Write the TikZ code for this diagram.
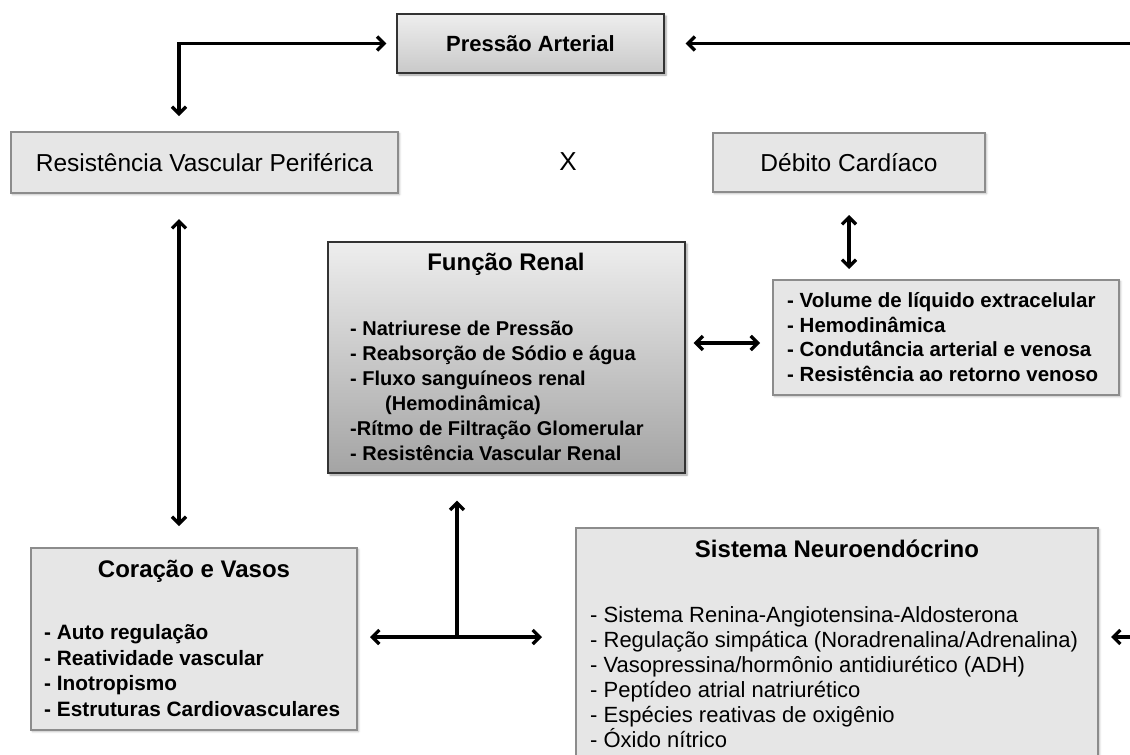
\documentclass[tikz,border=0pt]{standalone}
\usepackage{fontspec}
\setmainfont{Liberation Sans}
\usepackage{xcolor}
\definecolor{mgray}{HTML}{E6E6E6}
\definecolor{medge}{HTML}{8C8C8C}
\definecolor{mtop}{HTML}{EEEEEE}
\definecolor{mbot}{HTML}{B2B2B2}
\usepackage{tikz}
\usetikzlibrary{calc,shadows.blur}
\usetikzlibrary{arrows.meta}

\begin{document}
\begin{tikzpicture}[x=1pt, y=-1pt,
        gbox/.style={draw=medge, line width=2pt, fill=mgray, inner sep=0pt,
            blur shadow={shadow xshift=1.5pt, shadow yshift=-1.5pt, shadow blur radius=2pt, shadow opacity=30}},
        sbox/.style={draw=black!80, line width=1.2pt, top color=mtop, bottom color=mbot, inner sep=0pt,
            blur shadow={shadow xshift=2pt, shadow yshift=-2pt, shadow blur radius=2pt, shadow opacity=40}},
        ttl/.style={font=\fontsize{24}{28}\selectfont\bfseries},
        lst/.style={align=left, anchor=west, inner sep=0pt, font=\fontsize{20}{25}\selectfont\bfseries},
        arr/.style={-{Straight Barb[length=7pt,width=14pt]}, line width=3.3pt},
        dbl/.style={{Straight Barb[length=7pt,width=14pt]}-{Straight Barb[length=7pt,width=14pt]}, line width=3.3pt}]
    \useasboundingbox (0,0) rectangle (1130,755);
    \clip (0,0) rectangle (1130,755);

    \node[sbox, bottom color=mbot!70!white, minimum width=267pt, minimum height=59pt, font=\fontsize{22}{24}\selectfont\bfseries] (pa) at (530.5,43.5) {Pressão Arterial};
    \node[gbox, minimum width=387pt, minimum height=61pt, font=\fontsize{24.5}{28}\selectfont] (rvp) at (204.5,162.5) {Resistência Vascular Periférica};
    \node[font=\fontsize{26}{28}\selectfont] (vx) at (568,162) {X};
    \node[gbox, minimum width=272pt, minimum height=59pt, font=\fontsize{24.5}{28}\selectfont] (dc) at (849,162.5) {Débito Cardíaco};

    \node[sbox, bottom color=mbot!92!black, minimum width=357pt, minimum height=231pt] (fr) at (506.5,357.5) {};
    \node[ttl] (frt) at (506,264) {Função Renal};
    \node[lst] (frl) at (350,390.5) {- Natriurese de Pressão\\- Reabsorção de Sódio e água\\- Fluxo sanguíneos renal\\\hspace*{35pt}(Hemodinâmica)\\-Rítmo de Filtração Glomerular\\- Resistência Vascular Renal};

    \node[gbox, minimum width=346pt, minimum height=115pt] (vol) at (946,337.5) {};
    \node[lst, font=\fontsize{20.5}{24.7}\selectfont\bfseries] (voll) at (787,337) {- Volume de líquido extracelular\\- Hemodinâmica\\- Condutância arterial e venosa\\- Resistência ao retorno venoso};

    \node[gbox, minimum width=326pt, minimum height=182pt] (cv) at (194,639) {};
    \node[ttl] (cvt) at (194,571) {Coração e Vasos};
    \node[lst, font=\fontsize{20.8}{25.5}\selectfont\bfseries] (cvl) at (44,670.5) {- Auto regulação\\- Reatividade vascular\\- Inotropismo\\- Estruturas Cardiovasculares};

    \node[gbox, minimum width=522pt, minimum height=250pt] (ns) at (837,653) {};
    \node[ttl] (nst) at (837,549) {Sistema Neuroendócrino};
    \node[lst, font=\fontsize{22}{25}\selectfont] (nsl) at (590,677.5) {- Sistema Renina-Angiotensina-Aldosterona\\- Regulação simpática (Noradrenalina/Adrenalina)\\- Vasopressina/hormônio antidiurético (ADH)\\- Peptídeo atrial natriurético\\- Espécies reativas de oxigênio\\- Óxido nítrico};

    \coordinate (tl) at (179,43.5);
    \coordinate (pe) at (1135,43.5);
    \coordinate (rv) at (0,343);
    \coordinate (tj) at (457,637);
    \coordinate (ne) at (1135,637);

    \draw[dbl, shorten <=10pt, shorten >=15pt] (pa.west) -| (rvp.north -| tl);
    \draw[arr, shorten >=21pt] (pe) -- (pa.east);
    \draw[dbl, shorten <=25pt, shorten >=21pt] (rvp.south -| tl) -- (cv.north -| tl);
    \draw[dbl, shorten <=22pt, shorten >=10pt] (dc.south) -- (vol.north -| dc.south);
    \draw[dbl, shorten <=8pt, shorten >=12pt] (fr.east |- rv) -- (vol.west |- rv);
    \draw[arr, shorten >=27pt] (tj) -- (tj |- fr.south);
    \draw[dbl, shorten <=12pt, shorten >=33pt] (cv.east |- tj) -- (ns.west |- tj);
    \draw[arr, shorten >=12pt] (ne) -- (ne -| ns.east);
\end{tikzpicture}
\end{document}
